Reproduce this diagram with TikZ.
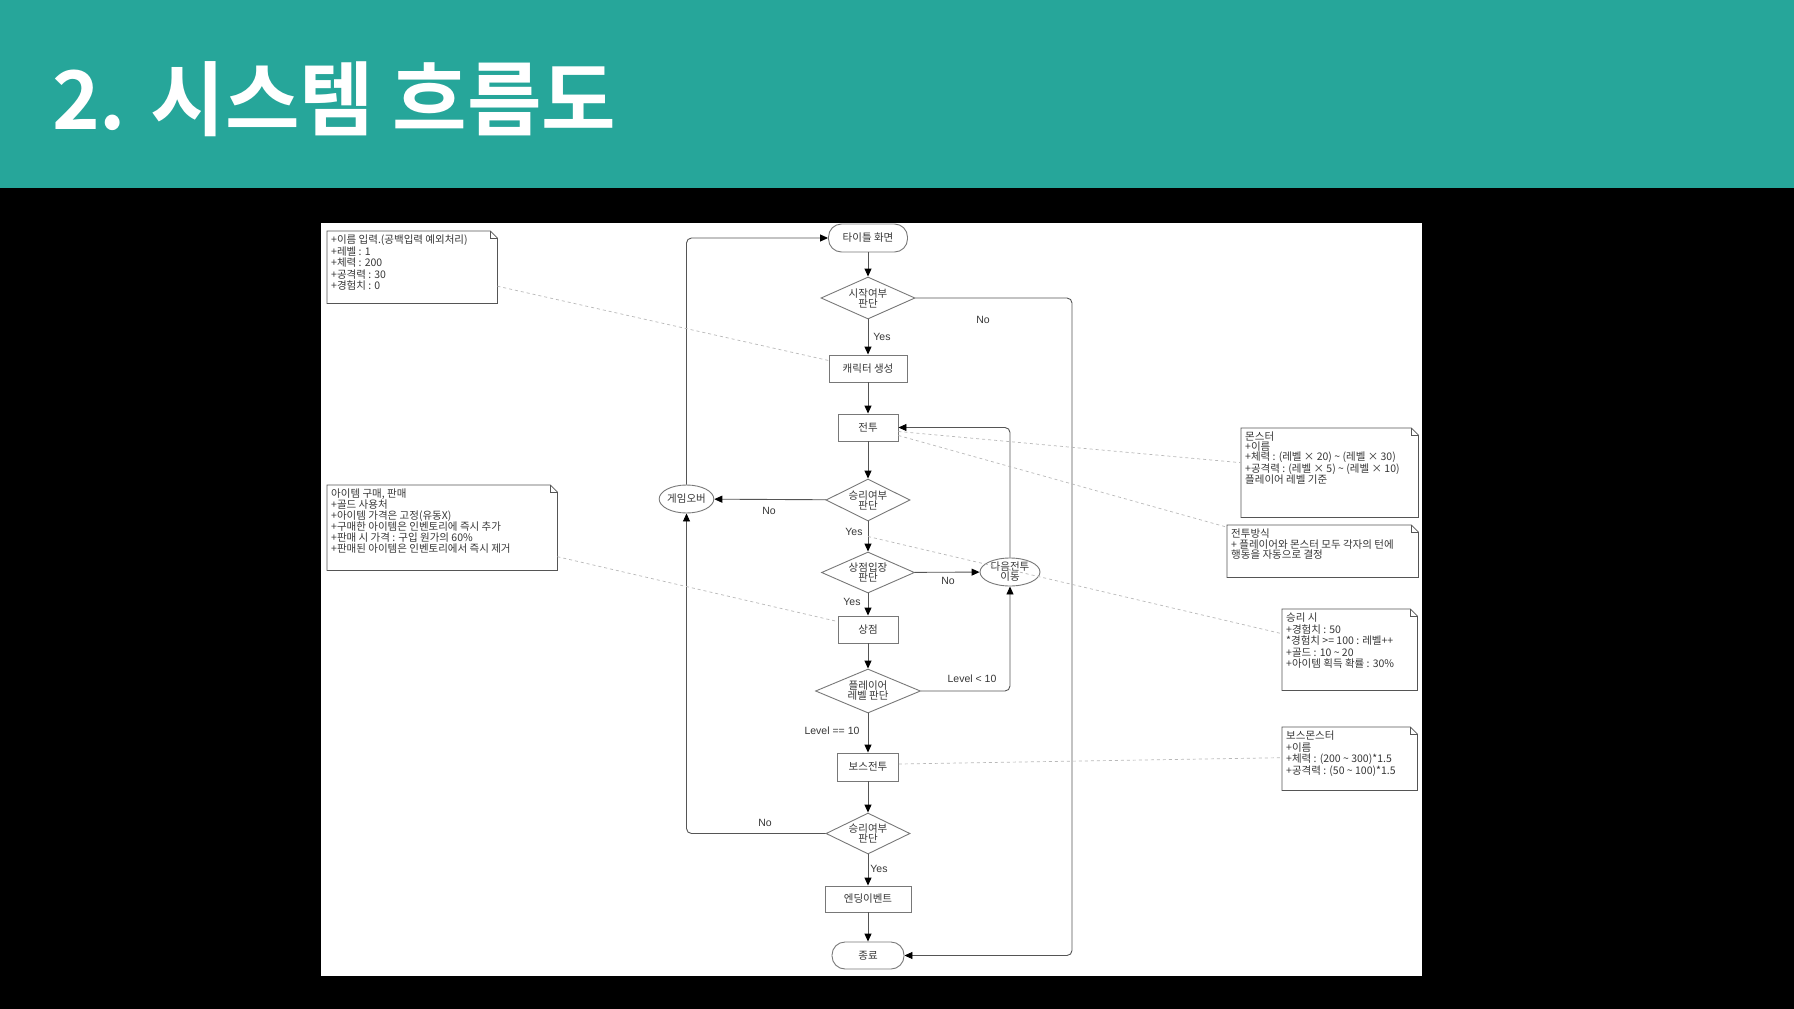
\documentclass[tikz,border=0pt]{standalone}
\usepackage{fontspec}
\newfontfamily\kr{Noto Sans CJK KR}
\newfontfamily\krhead{Noto Sans CJK KR Bold}
\newfontfamily\lat{Liberation Sans}
\definecolor{headteal}{RGB}{38,166,154}
\definecolor{boxgray}{RGB}{120,120,120}
\definecolor{linegray}{RGB}{85,85,85}
\definecolor{memogray}{RGB}{85,85,85}
\definecolor{tiegray}{RGB}{185,185,185}
\definecolor{inkgray}{RGB}{55,55,55}
\usetikzlibrary{arrows.meta, shapes.geometric}
\newcommand{\memobox}[3]{\parbox[c][#2][t]{#1}{\raggedright #3}}

\begin{document}
\begin{tikzpicture}[x=1pt, y=-1pt,
  term/.style={draw=boxgray, fill=white, rounded corners=13pt, line width=0.9pt,
    minimum height=28pt, inner sep=0pt, text=inkgray,
    font=\kr\fontsize{10.5}{10}\selectfont},
  proc/.style={draw=boxgray, fill=white, line width=0.9pt, minimum height=27pt,
    inner sep=0pt, text=inkgray, font=\kr\fontsize{10.5}{10}\selectfont},
  choice/.style={diamond, draw=boxgray, fill=white, line width=0.9pt, inner sep=0pt,
    aspect=2.2, align=center, text=inkgray, font=\kr\fontsize{10.5}{10}\selectfont},
  oval/.style={ellipse, draw=boxgray, fill=white, line width=0.9pt, inner sep=0pt,
    minimum height=28pt, align=center, text=inkgray,
    font=\kr\fontsize{10.5}{10}\selectfont},
  flow/.style={-{Triangle[length=8pt, width=7pt, color=black]}, draw=linegray,
    line width=0.9pt, rounded corners=5pt},
  lbl/.style={inner sep=0pt, text=inkgray, font=\lat\fontsize{10.5}{12}\selectfont},
  memo/.style={anchor=north west, inner sep=4pt, text=inkgray,
    font=\kr\fontsize{10.5}{11.5}\selectfont},
  memoline/.style={draw=memogray, line width=0.8pt},
  tie/.style={draw=tiegray, line width=0.7pt, dash pattern=on 3pt off 3pt},
]
\useasboundingbox (0,0) rectangle (1794,1009);
\fill[black] (0,0) rectangle (1794,1009);
\fill[headteal] (0,0) rectangle (1794,188);
\node[anchor=base west, inner sep=0pt, text=white, font=\krhead\fontsize{81}{85}\selectfont]
  (heading) at (52,129) {2. 시스템 흐름도};
\fill[white] (321,223) rectangle (1422,976);

% notes
\node[memo] (noteplayer) at (327,231) {\memobox{162pt}{64pt}{%
  +이름 입력.(공백입력 예외처리)\\+레벨 : 1\\+체력 : 200\\+공격력 : 30\\+경험치 : 0}};
\node[memo] (noteshop) at (327,485) {\memobox{222pt}{77pt}{\fontsize{10.5}{11}\selectfont
  아이템 구매, 판매\\+골드 사용처\\+아이템 가격은 고정(유동X)\\%
  +구매한 아이템은 인벤토리에 즉시 추가\\+판매 시 가격 : 구입 원가의 60\%\\%
  +판매된 아이템은 인벤토리에서 즉시 제거}};
\node[memo] (notemob) at (1241,428) {\memobox{169pt}{81pt}{\fontsize{10.5}{9.7}\selectfont
  몬스터\\+이름\\+체력 : (레벨 × 20) \textasciitilde{} (레벨 × 30)\\%
  +공격력 : (레벨 × 5) \textasciitilde{} (레벨 × 10)\\플레이어 레벨 기준}};
\node[memo] (notebattle) at (1227,525) {\memobox{183pt}{44pt}{\fontsize{10.5}{8}\selectfont
  전투방식\\+ 플레이어와 몬스터 모두 각자의 턴에\\행동을 자동으로 결정}};
\node[memo] (notewin) at (1282,609) {\memobox{127pt}{73pt}{%
  승리 시\\+경험치 : 50\\{}*경험치 >= 100 : 레벨++\\+골드 : 10 \textasciitilde{} 20\\%
  +아이템 획득 확률 : 30\%}};
\node[memo] (noteboss) at (1282,727) {\memobox{127pt}{55pt}{%
  보스몬스터\\+이름\\+체력 : (200 \textasciitilde{} 300)*1.5\\%
  +공격력 : (50 \textasciitilde{} 100)*1.5}};
\foreach \n in {noteplayer,noteshop,notemob,notebattle,notewin,noteboss}{
  \draw[memoline] (\n.north west) -- ([xshift=-7pt]\n.north east)
    -- ([yshift=-7pt]\n.north east) -- (\n.south east) -- (\n.south west) -- cycle;
  \draw[memoline] ([xshift=-7pt]\n.north east)
    -- ([xshift=-7pt, yshift=-7pt]\n.north east) -- ([yshift=-7pt]\n.north east);
}

% flow chart
\node[term, minimum width=79pt] (title) at (868,238) {타이틀 화면};
\node[choice, minimum width=94pt, minimum height=42pt] (start) at (868,298) {시작여부\\판단};
\node[proc, minimum width=78pt] (chara) at (868,368.5) {캐릭터 생성};
\node[proc, minimum width=60pt] (fight) at (868,427.5) {전투};
\node[choice, minimum width=84pt, minimum height=42pt] (win1) at (868,500) {승리여부\\판단};
\node[oval, minimum width=53pt] (over) at (686.5,499) {게임오버};
\node[choice, minimum width=93pt, minimum height=41pt] (shopq) at (868,572.5) {상점입장\\판단};
\node[oval, minimum width=60pt] (next) at (1010,572) {다음전투\\이동};
\node[proc, minimum width=60pt] (shop) at (868,629.5) {상점};
\node[choice, minimum width=105pt, minimum height=44pt] (lvq) at (868,691) {플레이어\\레벨 판단};
\node[proc, minimum width=61pt, minimum height=28pt] (boss) at (868,767) {보스전투};
\node[choice, minimum width=84pt, minimum height=41pt] (win2) at (868,833.5) {승리여부\\판단};
\node[proc, minimum width=86pt, minimum height=26pt] (ending) at (868,899) {엔딩이벤트};
\node[term, minimum width=72pt, minimum height=27pt] (stop) at (868,955.5) {종료};
\coordinate (rail) at (1072,298);

\draw[flow] (title) -- (start);
\draw[flow] (start) -- (chara);
\draw[flow] (start.east) -- (rail) |- (stop.east);
\draw[flow] (chara) -- (fight);
\draw[flow] (fight) -- (win1);
\draw[flow] (win1) -- (over);
\draw[flow] (over.north) |- (title.west);
\draw[flow] (win1) -- coordinate[pos=0.5] (winyes) (shopq);
\draw[flow] (shopq) -- (next);
\draw[flow] (next.north) |- (fight.east);
\draw[flow] (shopq) -- (shop);
\draw[flow] (shop) -- (lvq);
\draw[flow] (lvq.east) -| (next.south);
\draw[flow] (lvq) -- (boss);
\draw[flow] (boss) -- (win2);
\draw[flow] (win2.west) -| (over.south);
\draw[flow] (win2) -- (ending);
\draw[flow] (ending) -- (stop);

\node[lbl] (yesstart) at (882,337) {Yes};
\node[lbl] (nostart) at (983,320) {No};
\node[lbl] (nowin1) at (769,511) {No};
\node[lbl] (yeswin1) at (854,532) {Yes};
\node[lbl] (noshop) at (948,581) {No};
\node[lbl] (yesshop) at (852,602) {Yes};
\node[lbl] (lvlow) at (972,679) {Level < 10};
\node[lbl] (lvmax) at (832,731) {Level == 10};
\node[lbl] (nowin2) at (765,823) {No};
\node[lbl] (yeswin2) at (879,869) {Yes};

% note ties
\draw[tie] ([yshift=-19pt]noteplayer.east) -- ([yshift=8pt]chara.west);
\draw[tie] ([yshift=-29pt]noteshop.east) -- ([yshift=8pt]shop.west);
\draw[tie] ([yshift=-4pt]fight.east) -- ([yshift=10pt]notemob.west);
\draw[tie] ([yshift=-8pt]fight.east) -- ([yshift=24pt]notebattle.west);
\draw[tie] (winyes) -- ([yshift=16pt]notewin.west);
\draw[tie] ([yshift=3pt]boss.east) -- ([yshift=1pt]noteboss.west);
\end{tikzpicture}
\end{document}
